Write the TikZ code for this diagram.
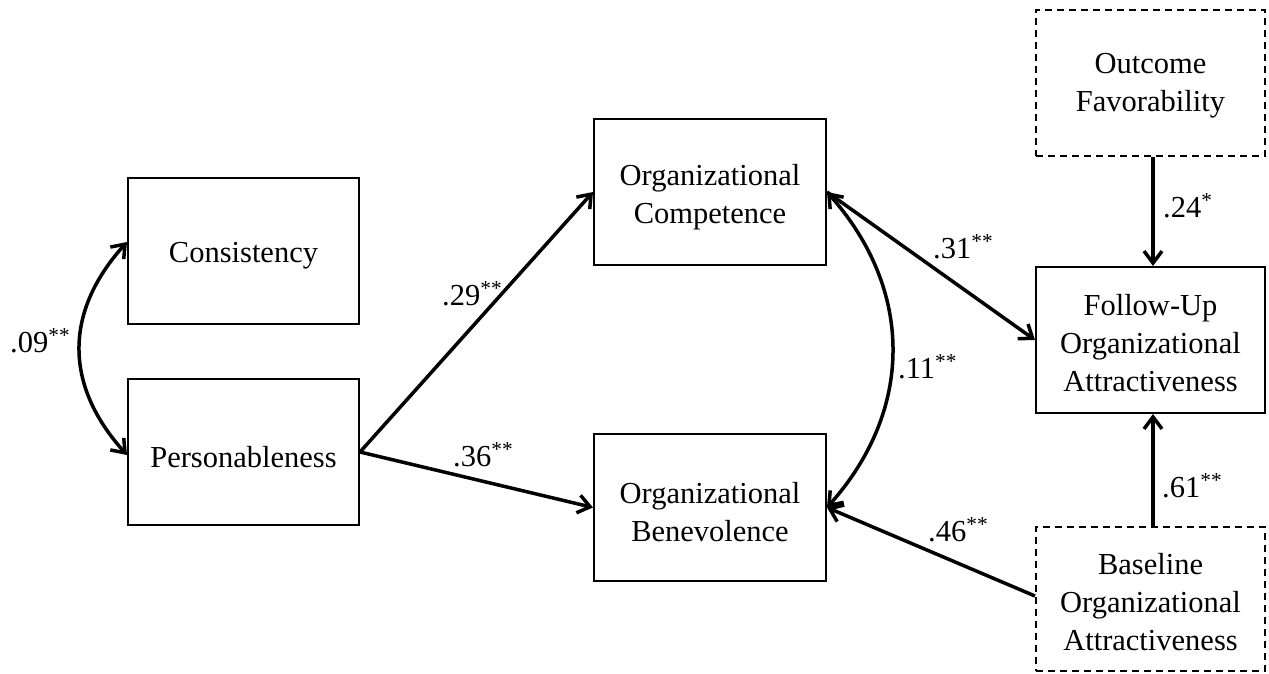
\documentclass[tikz,border=0pt]{standalone}
\usepackage{fontspec}
\setmainfont{Liberation Serif}
\usetikzlibrary{arrows.meta}
\begin{document}
\begin{tikzpicture}[x=1pt,y=-1pt,
  every node/.style={font=\fontsize{30.5}{38}\selectfont},
  var/.style={draw, line width=2pt, inner sep=0pt},
  ctrl/.style={var, dashed, dash pattern=on 7pt off 5pt},
  lbl/.style={align=center, inner sep=0pt},
  tip/.style={Straight Barb[length=12pt,width=18pt]},
  path/.style={line width=3.5pt, -{Straight Barb[length=12pt,width=18pt]}},
  cov/.style={line width=3.5pt, {Straight Barb[length=12pt,width=18pt]}-{Straight Barb[length=12pt,width=18pt]}},
  coef/.style={anchor=base west, inner sep=0pt}]
\useasboundingbox (0,0) rectangle (1269,673);
\node[var, minimum width=231pt, minimum height=146pt] (cons) at (243.5,251) {};
\node[var, minimum width=231pt, minimum height=146pt] (pers) at (243.5,452) {};
\node[var, minimum width=232pt, minimum height=146pt] (comp) at (710,192) {};
\node[var, minimum width=232pt, minimum height=147pt] (bene) at (710,507.5) {};
\node[ctrl, minimum width=229pt, minimum height=146pt] (outc) at (1150.5,83) {};
\node[var, minimum width=229pt, minimum height=146pt] (foll) at (1150.5,340) {};
\node[ctrl, minimum width=229pt, minimum height=144pt] (base) at (1150.5,599) {};

\node[lbl] (tcons) at ([yshift=-5pt]cons.center) {Consistency};
\node[lbl] (tpers) at ([yshift=-5pt]pers.center) {Personableness};
\node[lbl] (tcomp) at ([yshift=-5pt]comp.center) {Organizational\\ Competence};
\node[lbl] (tbene) at ([yshift=-5pt]bene.center) {Organizational\\ Benevolence};
\node[lbl] (toutc) at ([yshift=-3pt]outc.center) {Outcome\\Favorability};
\node[lbl] (tfoll) at ([yshift=-3pt]foll.center) {Follow-Up\\Organizational\\Attractiveness};
\node[lbl] (tbase) at ([yshift=-3pt]base.center) {Baseline\\Organizational\\Attractiveness};

\coordinate (c1) at (64,312);
\coordinate (c2) at (64,385);
\draw[cov] ([yshift=9pt]cons.west) .. controls (c1) and (c2) .. ([yshift=-3pt]pers.west);
\coordinate (c3) at (914,290);
\coordinate (c4) at (914,410);
\draw[cov] (comp.east) .. controls (c3) and (c4) .. (bene.east);

\draw[path] (pers.east) -- (comp.west);
\draw[path] (pers.east) -- (bene.west);
\draw[path] (comp.east) -- (foll.west);
\draw[path] ([yshift=3pt]base.west) -- (bene.east);
\draw[path] ([xshift=2.5pt]outc.south) -- ([xshift=2.5pt]foll.north);
\draw[path] ([xshift=2.5pt]base.north) -- ([xshift=2.5pt]foll.south);

\node[coef] (l09) at (10,352) {.09\textsuperscript{**}};
\node[coef] (l29) at (442,305) {.29\textsuperscript{**}};
\node[coef] (l36) at (453,466) {.36\textsuperscript{**}};
\node[coef] (l31) at (933,258) {.31\textsuperscript{**}};
\node[coef] (l11) at (898,378) {.11\textsuperscript{**}};
\node[coef] (l46) at (928,541) {.46\textsuperscript{**}};
\node[coef] (l24) at (1163,217) {.24\textsuperscript{*}};
\node[coef] (l61) at (1162,497) {.61\textsuperscript{**}};
\end{tikzpicture}
\end{document}
